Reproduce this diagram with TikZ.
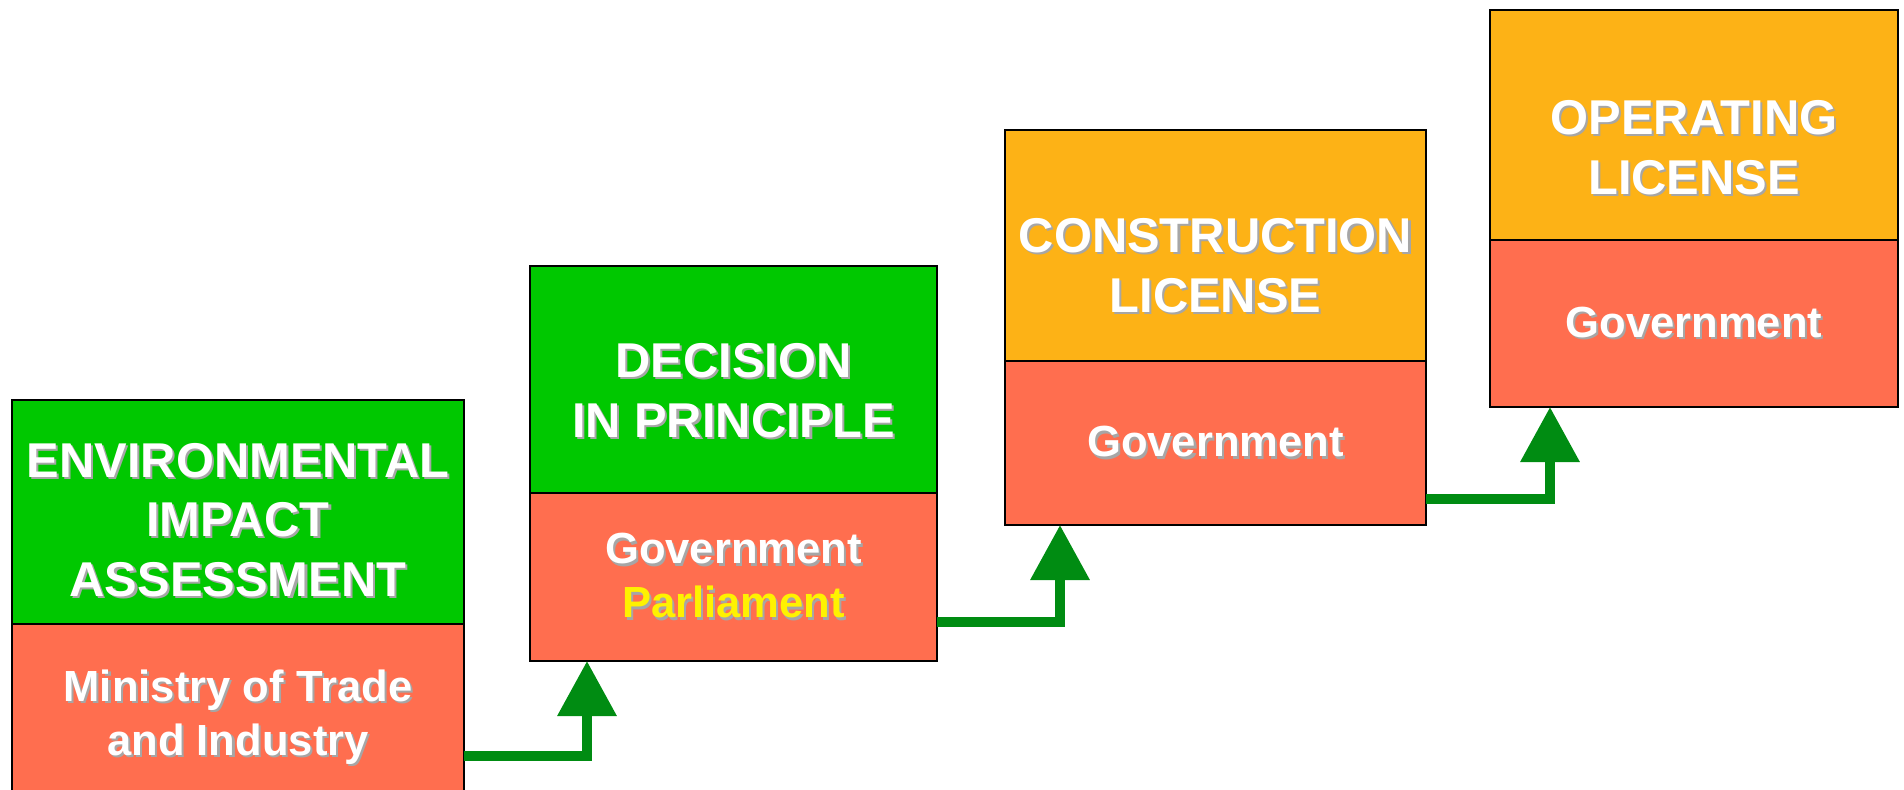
\documentclass[tikz,border=0pt]{standalone}
\usepackage{fontspec}
\setmainfont{Liberation Sans}
\usetikzlibrary{positioning,arrows.meta}
\definecolor{stepgreen}{HTML}{00C800}
\definecolor{steporange}{HTML}{FDB216}
\definecolor{stepred}{HTML}{FF6E4F}
\definecolor{flowgreen}{HTML}{008C12}
% white text with a light shadow
\newcommand{\sh}[2][white]{\rlap{\kern1.2pt\raisebox{-1.2pt}{\color{black!35}#2}}\textcolor{#1}{#2}}
\tikzset{
	stage/.style={draw, line width=1pt, outer sep=0pt, inner sep=0pt},
	head/.style={font=\bfseries\fontsize{27.8}{34}\selectfont, align=center, inner sep=0pt},
	who/.style={font=\bfseries\fontsize{24.8}{30.7}\selectfont, align=center},
	flow/.style={draw=flowgreen, line width=0.2cm, -{Triangle[width=1.14cm,length=1.1cm]}}
}
\begin{document}
\begin{tikzpicture}
		\useasboundingbox (0,0) rectangle (38.08,15.78);
		
		\node[stage, fill=stepgreen, minimum width=9.04cm, minimum height=4.48cm] (eia) at (4.76,5.54) {};
		\node[stage, who, fill=stepred, minimum width=9.04cm, minimum height=3.76cm, below=0pt of eia] (eiaorg) {\sh{Ministry of Trade}\\\sh{and Industry}};
		\node[head] (eiatxt) at ([yshift=-0.18cm]eia.center) {\sh{ENVIRONMENTAL}\\\sh{IMPACT}\\\sh{ASSESSMENT}};
		
		\node[stage, fill=stepgreen, minimum width=8.14cm, minimum height=4.54cm] (dip) at (14.67,8.19) {};
		\node[stage, who, fill=stepred, minimum width=8.14cm, minimum height=3.36cm, below=0pt of dip] (dipgov) {\sh{Government}\\\sh[yellow]{Parliament}};
		\node[head] (diptxt) at ([yshift=-0.25cm]dip.center) {\sh{DECISION}\\\sh{IN PRINCIPLE}};
		
		\node[stage, fill=steporange, minimum width=8.42cm, minimum height=4.62cm] (cl) at (24.31,10.87) {};
		\node[stage, who, fill=stepred, minimum width=8.42cm, minimum height=3.28cm, below=0pt of cl] (clgov) {\sh{Government}};
		\node[head] (cltxt) at ([yshift=-0.43cm]cl.center) {\sh{CONSTRUCTION}\\\sh{LICENSE}};
		
		\node[stage, fill=steporange, minimum width=8.16cm, minimum height=4.6cm] (ol) at (33.88,13.28) {};
		\node[stage, who, fill=stepred, minimum width=8.16cm, minimum height=3.34cm, below=0pt of ol] (olgov) {\sh{Government}};
		\node[head] (oltxt) at ([yshift=-0.48cm]ol.center) {\sh{OPERATING}\\\sh{LICENSE}};
		
		\draw[flow] ([yshift=-0.76cm]eiaorg.east) -| ([xshift=1.14cm]dipgov.south west);
		\draw[flow] ([yshift=-0.9cm]dipgov.east) -| ([xshift=1.1cm]clgov.south west);
		\draw[flow] ([yshift=-1.12cm]clgov.east) -| ([xshift=1.2cm]olgov.south west);
		
	\end{tikzpicture}
\end{document}
